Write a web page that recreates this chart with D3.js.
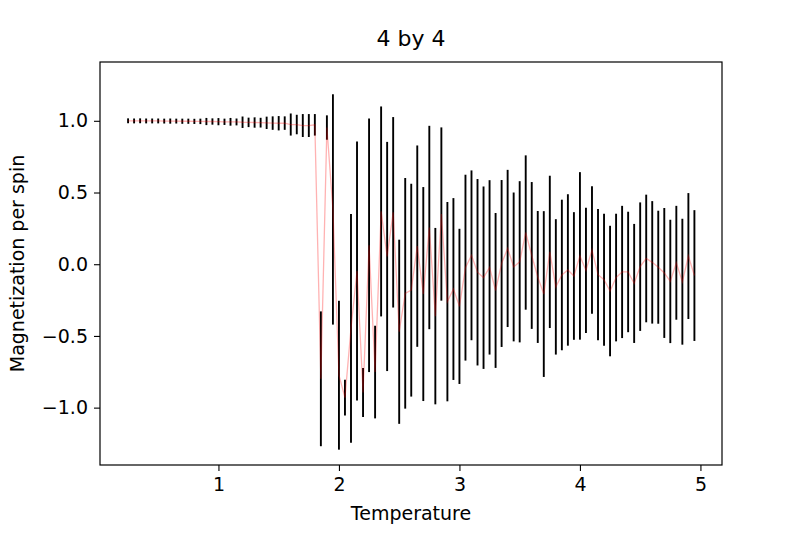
<!DOCTYPE html>
<html>
<head>
<meta charset="utf-8">
<script src="https://cdn.jsdelivr.net/npm/d3@7"></script>
<style>
  body { margin: 0; background: #fff; }
  text { font-family: "DejaVu Sans", sans-serif; fill: #000; }
</style>
</head>
<body>
<div id="chart"></div>
<script>
const title = "4 by 4";
const xLabel = "Temperature";
const yLabel = "Magnetization per spin";

const temps = [
  0.25, 0.30, 0.35, 0.40, 0.45, 0.50, 0.55, 0.60, 0.65, 0.70,
  0.75, 0.80, 0.85, 0.90, 0.95, 1.00, 1.05, 1.10, 1.15, 1.20,
  1.25, 1.30, 1.35, 1.40, 1.45, 1.50, 1.55, 1.60, 1.65, 1.70,
  1.75, 1.80, 1.85, 1.90, 1.95, 2.00, 2.05, 2.10, 2.15, 2.20,
  2.25, 2.30, 2.35, 2.40, 2.45, 2.50, 2.55, 2.60, 2.65, 2.70,
  2.75, 2.80, 2.85, 2.90, 2.95, 3.00, 3.05, 3.10, 3.15, 3.20,
  3.25, 3.30, 3.35, 3.40, 3.45, 3.50, 3.55, 3.60, 3.65, 3.70,
  3.75, 3.80, 3.85, 3.90, 3.95, 4.00, 4.05, 4.10, 4.15, 4.20,
  4.25, 4.30, 4.35, 4.40, 4.45, 4.50, 4.55, 4.60, 4.65, 4.70,
  4.75, 4.80, 4.85, 4.90, 4.95
];

// mean magnetization per spin
const means = [
  1.000, 0.999, 1.000, 0.999, 0.999, 0.999, 0.998, 0.998, 0.998, 0.997,
  0.997, 0.996, 0.996, 0.995, 0.995, 0.994, 0.993, 0.993, 0.992, 0.990,
  0.989, 0.988, 0.987, 0.986, 0.984, 0.983, 0.984, 0.974, 0.974, 0.967,
  0.967, 0.972, -0.799, 0.953, 0.382, -0.774, -0.930, -0.447, -0.047, -0.895,
  0.132, -0.752, 0.368, 0.054, 0.362, -0.471, -0.203, -0.181, 0.126, -0.208,
  0.256, -0.362, 0.350, -0.261, -0.173, -0.294, -0.024, 0.062, -0.056, -0.094,
  -0.022, -0.183, 0.005, 0.110, -0.019, 0.017, 0.221, 0.061, -0.089, -0.208,
  0.086, -0.158, -0.075, -0.040, -0.082, 0.058, -0.043, 0.099, -0.073, -0.108,
  -0.187, -0.093, -0.054, -0.054, -0.134, -0.017, 0.040, 0.013, -0.021, -0.061,
  -0.120, 0.010, -0.122, 0.057, -0.079
];

// error bar half-lengths
const errs = [
  0.017, 0.017, 0.017, 0.017, 0.017, 0.017, 0.017, 0.018, 0.017, 0.018,
  0.018, 0.018, 0.019, 0.025, 0.022, 0.025, 0.022, 0.027, 0.024, 0.040,
  0.033, 0.036, 0.034, 0.043, 0.047, 0.050, 0.047, 0.077, 0.068, 0.080,
  0.080, 0.075, 0.470, 0.085, 0.803, 0.519, 0.125, 0.797, 0.903, 0.171,
  0.884, 0.323, 0.732, 0.799, 0.664, 0.642, 0.804, 0.742, 0.702, 0.746,
  0.709, 0.615, 0.604, 0.695, 0.634, 0.541, 0.648, 0.592, 0.650, 0.636,
  0.608, 0.540, 0.582, 0.548, 0.519, 0.562, 0.538, 0.512, 0.460, 0.578,
  0.531, 0.472, 0.525, 0.528, 0.445, 0.584, 0.437, 0.444, 0.458, 0.460,
  0.455, 0.445, 0.461, 0.420, 0.415, 0.448, 0.445, 0.427, 0.394, 0.453,
  0.430, 0.397, 0.439, 0.439, 0.456
];

const xTicks = [1, 2, 3, 4, 5];
const yTicks = [-1.0, -0.5, 0.0, 0.5, 1.0];

const width = 800, height = 533;
const box = { left: 100, right: 722, top: 62, bottom: 465 };

const x = d3.scaleLinear().domain([0.017, 5.179]).range([box.left, box.right]);
const y = d3.scaleLinear().domain([-1.40, 1.41]).range([box.bottom, box.top]);

const data = temps.map((t, i) => ({ t, m: means[i], e: errs[i] }));

const svg = d3.select("#chart")
  .append("svg")
  .attr("width", width)
  .attr("height", height);

// error bars
svg.append("g")
  .selectAll("line")
  .data(data)
  .join("line")
  .attr("x1", d => x(d.t))
  .attr("x2", d => x(d.t))
  .attr("y1", d => y(d.m - d.e))
  .attr("y2", d => y(d.m + d.e))
  .attr("stroke", "#000")
  .attr("stroke-width", 1.9);

// mean line
const line = d3.line(d => x(d.t), d => y(d.m));
svg.append("path")
  .datum(data)
  .attr("d", line)
  .attr("fill", "none")
  .attr("stroke", "red")
  .attr("stroke-opacity", 0.3)
  .attr("stroke-width", 1.3);

// frame
svg.append("rect")
  .attr("x", box.left)
  .attr("y", box.top)
  .attr("width", box.right - box.left)
  .attr("height", box.bottom - box.top)
  .attr("fill", "none")
  .attr("stroke", "#000")
  .attr("stroke-width", 1.2);

const fmt = v => d3.format(".1f")(v).replace("-", "\u2212");

const xAxis = svg.append("g")
  .attr("transform", `translate(0,${box.bottom})`)
  .call(d3.axisBottom(x).tickValues(xTicks).tickSize(6).tickPadding(7).tickFormat(d3.format("d")));
const yAxis = svg.append("g")
  .attr("transform", `translate(${box.left},0)`)
  .call(d3.axisLeft(y).tickValues(yTicks).tickSize(6).tickPadding(6).tickFormat(fmt));

[xAxis, yAxis].forEach(g => {
  g.select(".domain").remove();
  g.selectAll(".tick line").attr("stroke", "#000").attr("stroke-width", 1.1);
  g.selectAll(".tick text").attr("font-size", 19).attr("font-family", "DejaVu Sans");
});

svg.append("text")
  .attr("x", (box.left + box.right) / 2)
  .attr("y", 46)
  .attr("text-anchor", "middle")
  .attr("font-size", 22)
  .text(title);

svg.append("text")
  .attr("x", (box.left + box.right) / 2)
  .attr("y", 520)
  .attr("text-anchor", "middle")
  .attr("font-size", 19)
  .text(xLabel);

svg.append("text")
  .attr("transform", `translate(24,${(box.top + box.bottom) / 2}) rotate(-90)`)
  .attr("text-anchor", "middle")
  .attr("font-size", 19)
  .text(yLabel);
</script>
</body>
</html>
